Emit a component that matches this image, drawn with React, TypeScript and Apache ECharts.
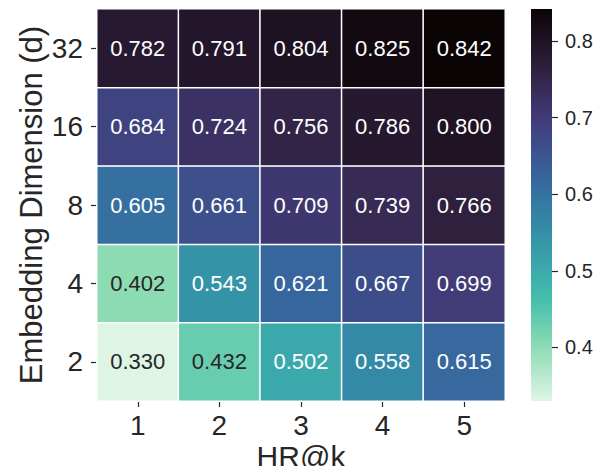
import React, { useEffect, useRef } from "react";
import * as echarts from "echarts";

const xCategories = ["1", "2", "3", "4", "5"];
const yCategories = ["2", "4", "8", "16", "32"];
const row2 = [0.33, 0.432, 0.502, 0.558, 0.615];
const row4 = [0.402, 0.543, 0.621, 0.667, 0.699];
const row8 = [0.605, 0.661, 0.709, 0.739, 0.766];
const row16 = [0.684, 0.724, 0.756, 0.786, 0.8];
const row32 = [0.782, 0.791, 0.804, 0.825, 0.842];
const rows = [row2, row4, row8, row16, row32];
const colorbarTicks = [0.4, 0.5, 0.6, 0.7, 0.8];
const vmin = 0.33;
const vmax = 0.842;

// mako colormap stops (position 0 = dark)
const makoStops: [number, string][] = [
  [0.0, "#0B0405"],
  [0.143, "#2E1E3B"],
  [0.25, "#3E356B"],
  [0.286, "#413D7B"],
  [0.429, "#37659E"],
  [0.5, "#357BA2"],
  [0.571, "#348FA7"],
  [0.714, "#40B7AD"],
  [0.75, "#49C1AD"],
  [0.857, "#8BDAB2"],
  [1.0, "#DEF5E5"],
];

function hexToRgb(h: string) {
  const n = parseInt(h.slice(1), 16);
  return [(n >> 16) & 255, (n >> 8) & 255, n & 255];
}
function mako(t: number) {
  t = Math.max(0, Math.min(1, t));
  for (let i = 0; i < makoStops.length - 1; i++) {
    const [p0, c0] = makoStops[i];
    const [p1, c1] = makoStops[i + 1];
    if (t >= p0 && t <= p1) {
      const f = (t - p0) / (p1 - p0);
      const a = hexToRgb(c0);
      const b = hexToRgb(c1);
      return a.map((v, k) => Math.round(v + (b[k] - v) * f));
    }
  }
  return hexToRgb(makoStops[makoStops.length - 1][1]);
}
function rgbStr(c: number[]) {
  return `rgb(${c[0]},${c[1]},${c[2]})`;
}
function relLum(c: number[]) {
  const f = (v: number) => {
    const s = v / 255;
    return s <= 0.03928 ? s / 12.92 : Math.pow((s + 0.055) / 1.055, 2.4);
  };
  return 0.2126 * f(c[0]) + 0.7152 * f(c[1]) + 0.0722 * f(c[2]);
}

const FONT = "'Liberation Sans', Arial, sans-serif";
const TXT = "#262626";

export default function App() {
  const ref = useRef<HTMLDivElement>(null);
  useEffect(() => {
    if (!ref.current) return;
    const chart = echarts.init(ref.current, undefined, { renderer: "svg" });

    // mako_r: low values light
    const inRange: string[] = [];
    for (let i = 0; i <= 100; i++) inRange.push(rgbStr(mako(1 - i / 100)));

    const data: any[] = [];
    rows.forEach((row, yi) => {
      row.forEach((v, xi) => {
        const c = mako(1 - (v - vmin) / (vmax - vmin));
        const textColor = relLum(c) > 0.408 ? TXT : "#ffffff";
        data.push({ value: [xi, yi, v], label: { color: textColor } });
      });
    });

    const gradStops = makoStops.map(([p, c]) => ({ offset: p, color: c }));

    chart.setOption({
      animation: false,
      textStyle: { fontFamily: FONT },
      grid: [
        { left: 97, top: 9, width: 408, height: 392, outerBoundsMode: "none", containLabel: false },
        { left: 531, top: 9, width: 21, height: 392, outerBoundsMode: "none", containLabel: false },
      ],
      xAxis: [
        {
          type: "category",
          gridIndex: 0,
          data: xCategories,
          axisLine: { show: false },
          axisTick: {
            show: true,
            alignWithLabel: true,
            length: 6,
            lineStyle: { color: TXT, width: 1.2 },
          },
          axisLabel: { fontSize: 28, color: TXT, margin: 10, fontFamily: FONT },
          splitLine: { show: false },
          name: "HR@k",
          nameLocation: "middle",
          nameGap: 40,
          nameMoveOverlap: false,
          nameTextStyle: { fontSize: 30, color: TXT, fontFamily: FONT, lineHeight: 30 },
        },
        {
          type: "category",
          gridIndex: 1,
          data: ["cb"],
          show: false,
        },
      ],
      yAxis: [
        {
          type: "category",
          gridIndex: 0,
          data: yCategories,
          axisLine: { show: false },
          axisTick: {
            show: true,
            alignWithLabel: true,
            length: 6,
            lineStyle: { color: TXT, width: 1.2 },
          },
          axisLabel: { fontSize: 28, color: TXT, margin: 14, fontFamily: FONT },
          splitLine: { show: false },
          name: "Embedding Dimension (d)",
          nameLocation: "middle",
          nameGap: 50,
          nameMoveOverlap: false,
          nameTextStyle: { fontSize: 31, color: TXT, fontFamily: FONT },
        },
        {
          type: "value",
          gridIndex: 1,
          position: "right",
          min: vmin,
          max: vmax,
          axisLine: { show: false },
          splitLine: { show: false },
          axisTick: {
            show: true,
            length: 6,
            customValues: colorbarTicks,
            lineStyle: { color: TXT, width: 1.2 },
          },
          axisLabel: {
            fontSize: 20,
            color: TXT,
            margin: 13,
            customValues: colorbarTicks,
            formatter: (v: number) => v.toFixed(1),
            fontFamily: FONT,
          },
        },
      ],
      visualMap: {
        show: false,
        type: "continuous",
        seriesIndex: 0,
        dimension: 2,
        min: vmin,
        max: vmax,
        inRange: { color: inRange },
      },
      series: [
        {
          type: "heatmap",
          xAxisIndex: 0,
          yAxisIndex: 0,
          data,
          itemStyle: { borderColor: "#ffffff", borderWidth: 1.5 },
          label: {
            show: true,
            fontSize: 22,
            fontFamily: FONT,
            formatter: (p: any) => p.value[2].toFixed(3),
          },
          emphasis: { disabled: true },
        },
        {
          type: "bar",
          xAxisIndex: 1,
          yAxisIndex: 1,
          stack: "cb",
          barWidth: "100%",
          data: [vmin],
          itemStyle: { color: "rgba(0,0,0,0)" },
          silent: true,
        },
        {
          type: "bar",
          xAxisIndex: 1,
          yAxisIndex: 1,
          stack: "cb",
          barWidth: "100%",
          data: [vmax - vmin],
          itemStyle: {
            color: new echarts.graphic.LinearGradient(0, 0, 0, 1, gradStops),
          },
          silent: true,
        },
      ],
    });
    return () => chart.dispose();
  }, []);
  return <div ref={ref} style={{ width: 613, height: 474, margin: -8 }} />;
}
